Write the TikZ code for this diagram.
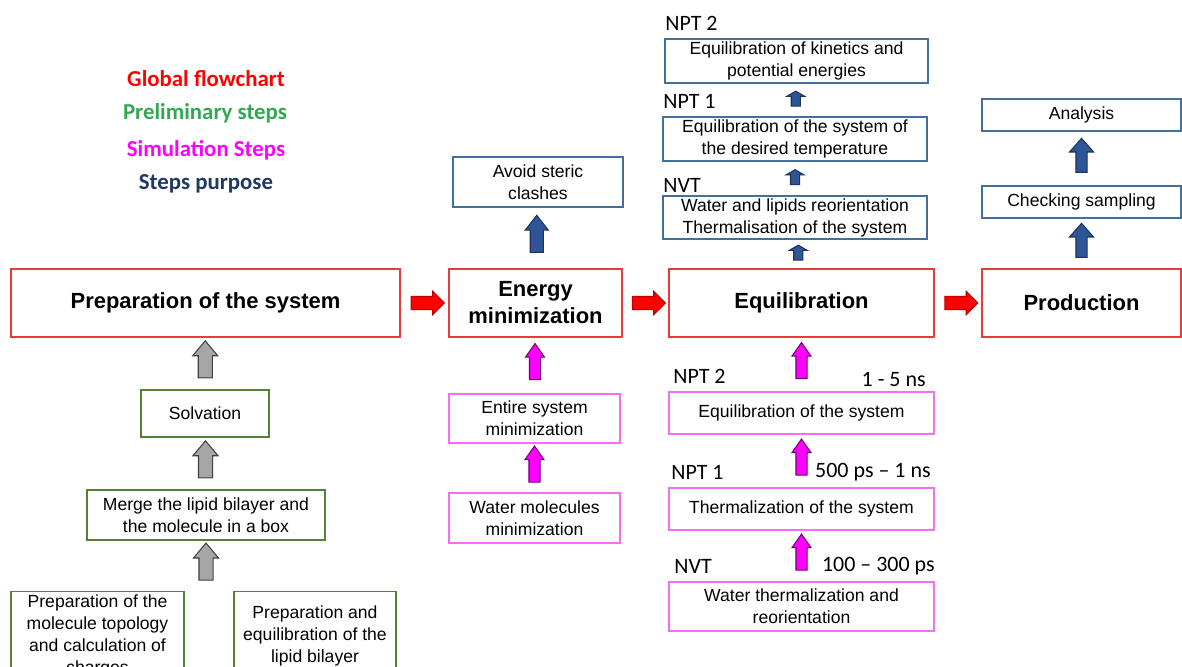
\documentclass[tikz,border=0pt]{standalone}
\usepackage{fontspec}
\setmainfont{Liberation Sans}
\newfontfamily\calibri{Carlito}
\usetikzlibrary{calc,shapes.arrows}

\definecolor{redline}{RGB}{232,58,58}
\definecolor{greenline}{RGB}{84,130,53}
\definecolor{blueline}{RGB}{65,113,156}
\definecolor{pinkline}{RGB}{245,110,245}
\definecolor{simmag}{RGB}{255,0,255}
\definecolor{navyarr}{RGB}{47,85,151}
\definecolor{prelimgreen}{RGB}{51,168,82}
\definecolor{purposeblue}{RGB}{31,56,100}

\begin{document}
\begin{tikzpicture}[x=0.02cm, y=-0.02cm,
  sz/.style 2 args = {minimum width = #1*0.02cm, minimum height = #2*0.02cm},
  box/.style = {draw, line width = .6pt, align = center, inner sep = 0pt, font = \fontsize{10}{12.5}\selectfont},
  main/.style = {box, draw = redline, font = \fontsize{12.5}{15.4}\selectfont\bfseries},
  prelim/.style = {box, draw = greenline},
  sim/.style = {box, draw = pinkline},
  goal/.style = {box, draw = blueline},
  lgd/.style = {font = \calibri\fontsize{13}{15}\selectfont\bfseries},
  ens/.style = {inner sep = 0pt, font = \calibri\fontsize{12.5}{15}\selectfont},
  blk/.style = {single arrow, draw, line width = .6pt, single arrow head indent = 0pt},
  rarr/.style = {blk, fill = red, draw = red!75!black, inner sep = 0.12cm, minimum height = 0.66cm, single arrow head extend = 0.1cm, single arrow tip angle = 90},
  garr/.style = {blk, fill = black!35, draw = black!75, shape border rotate = 90, inner sep = 0.13cm, minimum height = 0.74cm, single arrow head extend = 0.11cm, single arrow tip angle = 80},
  marr/.style = {blk, fill = simmag, draw = simmag!45!black, shape border rotate = 90, inner sep = 0.1cm, minimum height = 0.72cm, single arrow head extend = 0.08cm, single arrow tip angle = 70},
  barr/.style = {blk, fill = navyarr, draw = navyarr!60!black, shape border rotate = 90, inner sep = 0.12cm, minimum height = 0.74cm, single arrow head extend = 0.1cm, single arrow tip angle = 76},
  parr/.style = {blk, fill = navyarr, draw = navyarr!60!black, shape border rotate = 90, inner sep = 0.1cm, minimum height = 0.68cm, single arrow head extend = 0.13cm, single arrow tip angle = 83},
  sarr/.style = {blk, fill = navyarr, draw = navyarr!60!black, shape border rotate = 90, inner sep = 0.08cm, minimum height = 0.3cm, single arrow head extend = 0.09cm, single arrow tip angle = 120}]
  \useasboundingbox (0,0) rectangle (1182,666);

  % legend
  \node [lgd, text = red] (l1) at (206, 79) {Global flowchart};
  \node [lgd, text = prelimgreen] (l2) at (205, 113) {Preliminary steps};
  \node [lgd, text = simmag] (l3) at (206, 150) {Simulation Steps};
  \node [lgd, text = purposeblue] (l4) at (206, 184) {Steps purpose};

  % global flowchart
  \node [main, sz = {389}{68}] (prep) at (205.5, 303) {Preparation of the system};
  \node [main, sz = {173}{68}] (emin) at (535.5, 303) {Energy\\minimization};
  \node [main, sz = {265}{68}] (equil) at (801.5, 303) {Equilibration};
  \node [main, sz = {199}{68}] (prod) at (1081.5, 303) {Production};
  \node [rarr] (r1) at ($(prep.east)!.5!(emin.west)$) {};
  \node [rarr] (r2) at ($(emin.east)!.5!(equil.west)$) {};
  \node [rarr] (r3) at ($(equil.east)!.5!(prod.west)$) {};

  % preparation
  \node [prelim, sz = {128}{47}] (solv) at (205, 413.5) {Solvation};
  \node [prelim, sz = {238}{50}] (merge) at (206, 515) {Merge the lipid bilayer and\\the molecule in a box};
  \node [prelim, sz = {173}{88}, anchor = north] (topo) at (97.5, 591) {Preparation of the\\molecule topology\\and calculation of\\charges};
  \node [prelim, sz = {162}{88}, anchor = north] (lipid) at (315, 591) {Preparation and\\equilibration of the\\lipid bilayer};
  \node [garr] (g1) at ($(solv.north)!.5!(prep.south)$) {};
  \node [garr] (g2) at ($(merge.north)!.5!(solv.south)$) {};
  \node [garr] (g3) at ($(merge.south)!.5!(merge.south |- topo.north)$) {};

  % minimization
  \node [goal, sz = {170}{50}] (steric) at (538, 182) {Avoid steric\\clashes};
  \node [sim, sz = {171}{49}] (entire) at (534.5, 418.5) {Entire system\\minimization};
  \node [sim, sz = {171}{50}] (water) at (534.5, 518) {Water molecules\\minimization};
  \node [barr] (b1) at ($(emin.north)!.5!(steric.south)$) {};
  \node [marr] (m1) at ($(entire.north)!.5!(emin.south)$) {};
  \node [marr] (m2) at ($(water.north)!.5!(entire.south)$) {};

  % equilibration, purpose
  \node [goal, sz = {263}{44}] (kin) at (796.5, 61) {Equilibration of kinetics and\\potential energies};
  \node [goal, sz = {264}{44}] (temp) at (795, 139) {Equilibration of the system of\\the desired temperature};
  \node [goal, sz = {264}{43}] (reor) at (795, 217.5) {Water and lipids reorientation\\Thermalisation of the system};
  \node [ens, anchor = west] (t1) at (665, 23) {NPT 2};
  \node [ens, anchor = west] (t2) at (663, 101) {NPT 1};
  \node [ens, anchor = west] (t3) at (663, 185) {NVT};
  \node [sarr] (s1) at ($(temp.north)!.5!(kin.south)$) {};
  \node [sarr] (s2) at ($(reor.north)!.5!(temp.south)$) {};
  \node [sarr] (s3) at ($(equil.north)!.5!(reor.south)$) {};

  % equilibration, steps
  \node [sim, sz = {265}{42}] (eqs) at (801.5, 413) {Equilibration of the system};
  \node [sim, sz = {265}{42}] (therm) at (801.5, 509) {Thermalization of the system};
  \node [sim, sz = {265}{49}] (wth) at (801.5, 606.5) {Water thermalization and\\reorientation};
  \node [ens, anchor = west] (e1) at (673, 376) {NPT 2};
  \node [ens, anchor = east] (d1) at (926, 380) {1 - 5 ns};
  \node [ens, anchor = west] (e2) at (671, 472) {NPT 1};
  \node [ens, anchor = east] (d2) at (931, 472) {500 ps \textendash{} 1 ns};
  \node [ens, anchor = west] (e3) at (674, 566) {NVT};
  \node [ens, anchor = east] (d3) at (935, 566) {100 \textendash{} 300 ps};
  \node [marr] (m3) at ($(eqs.north)!.5!(equil.south)$) {};
  \node [marr] (m4) at ($(therm.north)!.5!(eqs.south)$) {};
  \node [marr] (m5) at ($(wth.north)!.5!(therm.south)$) {};

  % production
  \node [goal, sz = {199}{32}] (ana) at (1081.5, 115) {Analysis};
  \node [goal, sz = {199}{32}] (chk) at (1081.5, 202) {Checking sampling};
  \node [parr] (b2) at ($(chk.north)!.5!(ana.south)$) {};
  \node [parr] (b3) at ($(prod.north)!.5!(chk.south)$) {};
\end{tikzpicture}
\end{document}
